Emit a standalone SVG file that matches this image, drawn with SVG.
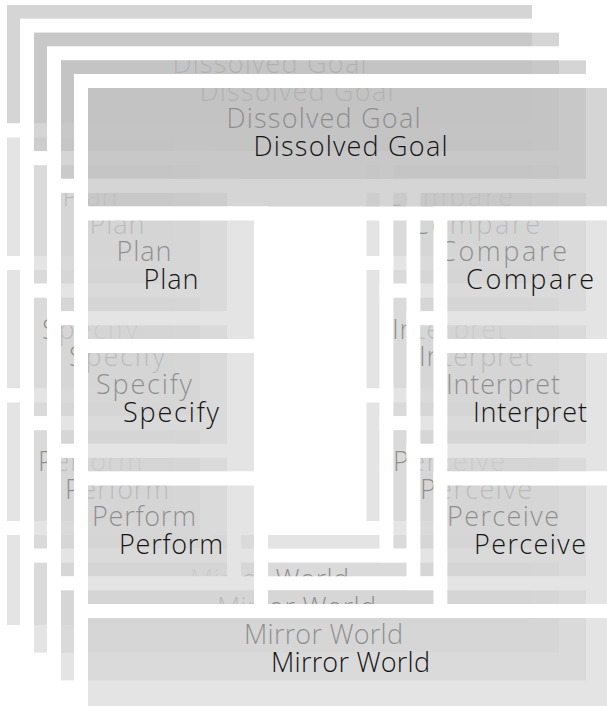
<svg xmlns="http://www.w3.org/2000/svg" width="607" height="706" viewBox="0 0 607 706">
<style>
.frame{fill:none;stroke:#ffffff;stroke-width:14}
.g{fill:#c2c2c2;fill-opacity:0.69}
.s{fill:#d4d4d4;fill-opacity:0.63}
.t{font-family:"Open Sans",Inter,"Liberation Sans",sans-serif;font-weight:300;font-size:27px;fill:#151515;text-anchor:middle}
</style>
<defs>
<g id="tpl-goal"><rect class="frame" x="-7" y="-7" width="539" height="132.5"/><rect class="g" x="0" y="0" width="525" height="118.5"/><text class="t" x="262.5" y="68" textLength="194">Dissolved Goal</text></g>
<g id="tpl-plan"><rect class="frame" x="-7" y="125.5" width="180" height="132.5"/><rect class="s" x="0" y="132.5" width="166" height="118.5"/><text class="t" x="83" y="201" textLength="55">Plan</text></g>
<g id="tpl-compare"><rect class="frame" x="352.5" y="125.5" width="179.5" height="132.5"/><rect class="s" x="359.5" y="132.5" width="165.5" height="118.5"/><text class="t" x="442" y="201" textLength="128">Compare</text></g>
<g id="tpl-specify"><rect class="frame" x="-7" y="258" width="180" height="132.5"/><rect class="s" x="0" y="265" width="166" height="118.5"/><text class="t" x="83" y="333.5" textLength="96">Specify</text></g>
<g id="tpl-interpret"><rect class="frame" x="352.5" y="258" width="179.5" height="132.5"/><rect class="s" x="359.5" y="265" width="165.5" height="118.5"/><text class="t" x="442" y="333.5" textLength="114">Interpret</text></g>
<g id="tpl-perform"><rect class="frame" x="-7" y="390.5" width="180" height="132.5"/><rect class="s" x="0" y="397.5" width="166" height="118.5"/><text class="t" x="83" y="466" textLength="104">Perform</text></g>
<g id="tpl-perceive"><rect class="frame" x="352.5" y="390.5" width="179.5" height="132.5"/><rect class="s" x="359.5" y="397.5" width="165.5" height="118.5"/><text class="t" x="442" y="466" textLength="112">Perceive</text></g>
<g id="tpl-world"><rect class="frame" x="-7" y="523" width="539" height="104"/><rect class="s" x="0" y="530" width="525" height="90"/><text class="t" x="262.5" y="584" textLength="159">Mirror World</text></g>
</defs>
<rect x="0" y="0" width="607" height="706" fill="#ffffff"/>
<g id="layer1" transform="translate(7,5)">
<g id="l1-goal"><use href="#tpl-goal"/></g>
<g id="l1-plan"><use href="#tpl-plan"/></g>
<g id="l1-compare"><use href="#tpl-compare"/></g>
<g id="l1-specify"><use href="#tpl-specify"/></g>
<g id="l1-interpret"><use href="#tpl-interpret"/></g>
<g id="l1-perform"><use href="#tpl-perform"/></g>
<g id="l1-perceive"><use href="#tpl-perceive"/></g>
<g id="l1-world"><use href="#tpl-world"/></g>
</g>
<g id="layer2" transform="translate(34,32.67)">
<g id="l2-goal"><use href="#tpl-goal"/></g>
<g id="l2-plan"><use href="#tpl-plan"/></g>
<g id="l2-compare"><use href="#tpl-compare"/></g>
<g id="l2-specify"><use href="#tpl-specify"/></g>
<g id="l2-interpret"><use href="#tpl-interpret"/></g>
<g id="l2-perform"><use href="#tpl-perform"/></g>
<g id="l2-perceive"><use href="#tpl-perceive"/></g>
<g id="l2-world"><use href="#tpl-world"/></g>
</g>
<g id="layer3" transform="translate(61,60.33)">
<g id="l3-goal"><use href="#tpl-goal"/></g>
<g id="l3-plan"><use href="#tpl-plan"/></g>
<g id="l3-compare"><use href="#tpl-compare"/></g>
<g id="l3-specify"><use href="#tpl-specify"/></g>
<g id="l3-interpret"><use href="#tpl-interpret"/></g>
<g id="l3-perform"><use href="#tpl-perform"/></g>
<g id="l3-perceive"><use href="#tpl-perceive"/></g>
<g id="l3-world"><use href="#tpl-world"/></g>
</g>
<g id="layer4" transform="translate(88,88)">
<g id="l4-goal"><use href="#tpl-goal"/></g>
<g id="l4-plan"><use href="#tpl-plan"/></g>
<g id="l4-compare"><use href="#tpl-compare"/></g>
<g id="l4-specify"><use href="#tpl-specify"/></g>
<g id="l4-interpret"><use href="#tpl-interpret"/></g>
<g id="l4-perform"><use href="#tpl-perform"/></g>
<g id="l4-perceive"><use href="#tpl-perceive"/></g>
<g id="l4-world"><use href="#tpl-world"/></g>
</g>
<g id="connectors"/>
</svg>
